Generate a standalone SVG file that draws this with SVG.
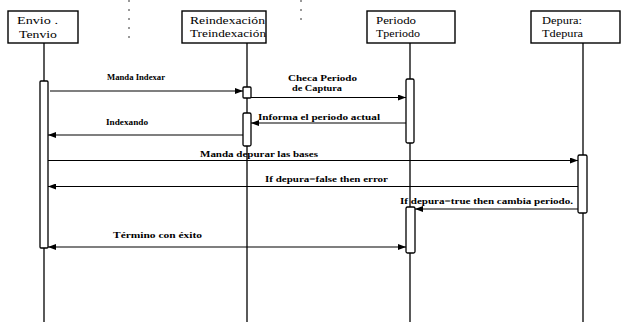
<svg xmlns="http://www.w3.org/2000/svg" width="621" height="322" viewBox="0 0 621 322">
<defs>
<style>
.box{fill:#fff;stroke:#000;stroke-width:1.4}
.life{stroke:#000;stroke-width:1.3;fill:none}
.bar{fill:#fff;stroke:#000;stroke-width:1.3}
.msg{stroke:#000;stroke-width:1.2;fill:none}
.nt{font-family:"Liberation Serif",serif;font-size:11px;fill:#000}
.lb{font-family:"Liberation Serif",serif;font-size:9px;font-weight:bold;fill:#000}
.noise{stroke:#000;stroke-width:0.8;stroke-dasharray:2 7;fill:none}
</style>
<marker id="ah" viewBox="0 0 8 6" refX="8" refY="3" markerWidth="8" markerHeight="6" markerUnits="userSpaceOnUse" orient="auto-start-reverse">
<path d="M0,0 L8,3 L0,6 Z" fill="#000"/>
</marker>
</defs>
<rect width="621" height="322" fill="#fff"/>
<path class="noise" d="M129,0 V42 M301,0 V25"/>

<g id="envio">
<rect class="box" x="8" y="11" width="70" height="32"/>
<text class="nt" x="17" y="24" textLength="41" lengthAdjust="spacingAndGlyphs">Envio .</text>
<text class="nt" x="19" y="38" textLength="38" lengthAdjust="spacingAndGlyphs">Tenvio</text>
<line class="life" x1="44" y1="43" x2="44" y2="322"/>
<rect class="bar" x="40" y="81" width="8" height="167" rx="1"/>
</g>

<g id="reindexacion">
<rect class="box" x="182" y="11" width="84" height="32"/>
<text class="nt" x="190" y="24" textLength="75" lengthAdjust="spacingAndGlyphs">Reindexación</text>
<text class="nt" x="190" y="37" textLength="76" lengthAdjust="spacingAndGlyphs">Treindexación</text>
<line class="life" x1="247" y1="43" x2="247" y2="322"/>
<rect class="bar" x="243" y="87" width="8" height="11" rx="1"/>
<rect class="bar" x="243" y="113" width="8" height="33" rx="1.5"/>
</g>

<g id="periodo">
<rect class="box" x="367" y="11" width="88" height="32"/>
<text class="nt" x="376" y="24" textLength="40" lengthAdjust="spacingAndGlyphs">Periodo</text>
<text class="nt" x="376" y="37" textLength="44" lengthAdjust="spacingAndGlyphs">Tperiodo</text>
<line class="life" x1="410" y1="43" x2="410" y2="322"/>
<rect class="bar" x="406" y="79" width="8" height="64" rx="1.5"/>
<rect class="bar" x="406" y="207" width="9" height="46" rx="1.5"/>
</g>

<g id="depura">
<rect class="box" x="531" y="11" width="89" height="32"/>
<text class="nt" x="542" y="24" textLength="40" lengthAdjust="spacingAndGlyphs">Depura:</text>
<text class="nt" x="542" y="37" textLength="41" lengthAdjust="spacingAndGlyphs">Tdepura</text>
<line class="life" x1="583" y1="43" x2="583" y2="322"/>
<rect class="bar" x="578" y="155" width="9" height="58" rx="1.5"/>
</g>

<g id="connectors">
<line class="msg" x1="50" y1="91" x2="243" y2="91" marker-end="url(#ah)"/>
<text class="lb" x="107" y="80" textLength="58" lengthAdjust="spacingAndGlyphs">Manda Indexar</text>

<line class="msg" x1="251" y1="97.5" x2="406" y2="97.5" marker-end="url(#ah)"/>
<text class="lb" x="288" y="81" textLength="69" lengthAdjust="spacingAndGlyphs">Checa Periodo</text>
<text class="lb" x="292" y="91" textLength="50" lengthAdjust="spacingAndGlyphs">de Captura</text>

<line class="msg" x1="406" y1="123" x2="251" y2="123" marker-end="url(#ah)"/>
<text class="lb" x="258" y="120" textLength="122" lengthAdjust="spacingAndGlyphs">Informa el periodo actual</text>

<line class="msg" x1="243" y1="135" x2="48" y2="135" marker-end="url(#ah)"/>
<text class="lb" x="106" y="125" textLength="42" lengthAdjust="spacingAndGlyphs">Indexando</text>

<line class="msg" x1="48" y1="160.5" x2="578" y2="160.5" marker-end="url(#ah)"/>
<text class="lb" x="200" y="157" textLength="118" lengthAdjust="spacingAndGlyphs">Manda depurar las bases</text>

<line class="msg" x1="578" y1="186.5" x2="48" y2="186.5" marker-end="url(#ah)"/>
<text class="lb" x="265" y="182" textLength="123" lengthAdjust="spacingAndGlyphs">If depura=false then error</text>

<line class="msg" x1="578" y1="209" x2="415" y2="209" marker-end="url(#ah)"/>
<text class="lb" x="400" y="204" textLength="173" lengthAdjust="spacingAndGlyphs">If depura=true then cambia periodo.</text>

<line class="msg" x1="406" y1="247" x2="48" y2="247" marker-start="url(#ah)" marker-end="url(#ah)"/>
<text class="lb" x="113" y="238" textLength="89" lengthAdjust="spacingAndGlyphs">Término con éxito</text>
</g>
</svg>
